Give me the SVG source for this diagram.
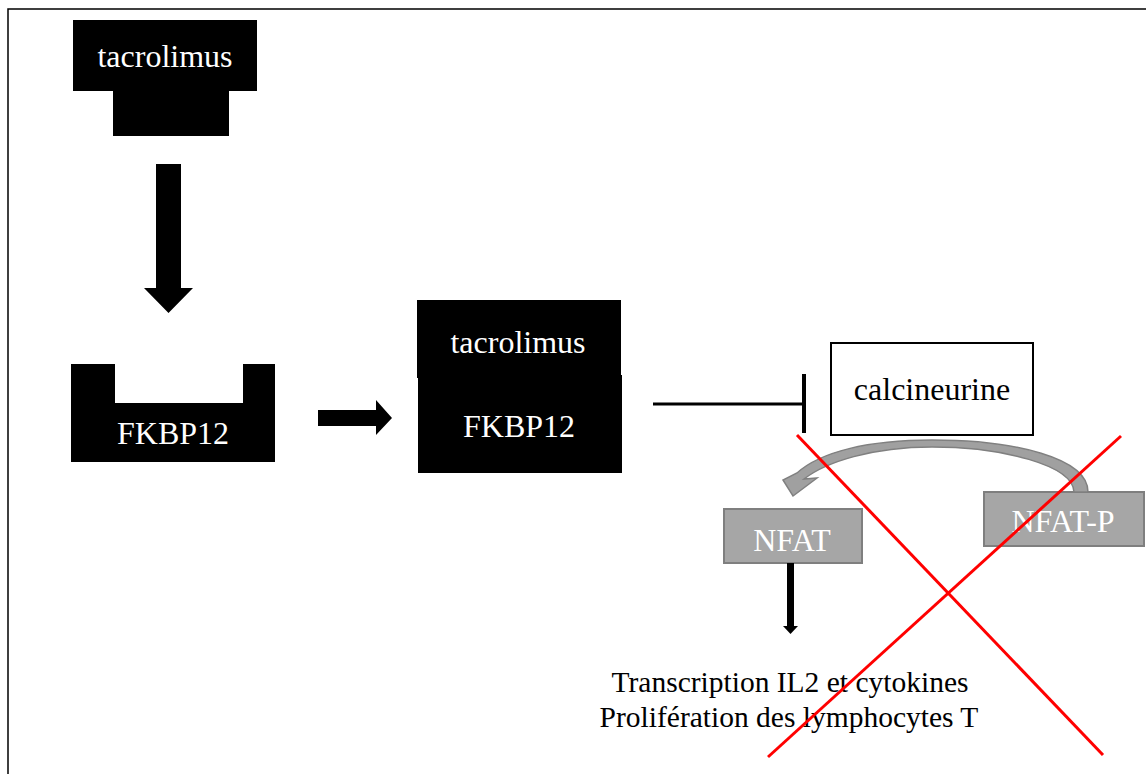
<svg xmlns="http://www.w3.org/2000/svg" width="1146" height="774" viewBox="0 0 1146 774">
<style>
.lbl{font-family:"Liberation Serif","Times New Roman",serif;font-size:32px;text-anchor:middle}
.w{fill:#ffffff}
.k{fill:#000000}
.blk{fill:#000000}
.gbox{fill:#a6a6a6;stroke:#7f7f7f;stroke-width:2}
.cross{stroke:#ff0000;stroke-width:3;fill:none}
.foot{font-family:"Liberation Serif","Times New Roman",serif;font-size:29.5px;text-anchor:middle;fill:#000}
</style>
<rect x="0" y="0" width="1146" height="774" fill="#ffffff"/>
<rect x="8" y="9" width="1150" height="780" fill="none" stroke="#000" stroke-width="1.5"/>

<g id="tacrolimus-free">
<polygon class="blk" points="73,20 257,20 257,91 229,91 229,136 113,136 113,91 73,91"/>
<text class="lbl w" x="165" y="67">tacrolimus</text>
</g>

<g id="fkbp12">
<polygon class="blk" points="71,364 115,364 115,403 243,403 243,364 275,364 275,462 71,462"/>
<text class="lbl w" x="173" y="444">FKBP12</text>
</g>

<g id="complex">
<rect class="blk" x="417" y="300" width="204" height="78"/>
<rect class="blk" x="418" y="375" width="204" height="98"/>
<text class="lbl w" x="518" y="353">tacrolimus</text>
<text class="lbl w" x="519" y="437">FKBP12</text>
</g>

<g id="calcineurine">
<rect x="831" y="343" width="202" height="92" fill="#fff" stroke="#000" stroke-width="2"/>
<text class="lbl k" x="932" y="400">calcineurine</text>
</g>

<g id="nfat">
<rect class="gbox" x="724" y="509" width="138" height="54"/>
<text class="lbl w" x="792" y="551">NFAT</text>
</g>

<g id="nfat-p">
<rect class="gbox" x="984" y="492" width="160" height="54"/>
<text class="lbl w" x="1063" y="532">NFAT-P</text>
</g>

<g id="outcome">
<text class="foot" x="790" y="692">Transcription IL2 et cytokines</text>
<text class="foot" x="789" y="727">Prolifération des lymphocytes T</text>
</g>

<g id="connectors">
<polygon class="blk" points="156,164 181,164 181,288 193,288 168.5,313 144,288 156,288"/>
<polygon class="blk" points="318,410 376,410 376,400 392,418 376,435 376,426 318,426"/>
<line x1="653" y1="404" x2="804" y2="404" stroke="#000" stroke-width="3"/>
<line x1="804" y1="374" x2="804" y2="433" stroke="#000" stroke-width="4"/>
<path d="M1088,492 C1088,458 1015,440 932,440 C868,440 820,452 797,473 L783,480 L793,496 L817,478 L804,479 C826,462 872,447 932,447 C1002,447 1073,465 1074,492 Z" fill="#a0a0a0" stroke="#808080" stroke-width="1.5" stroke-linejoin="miter"/>
<rect class="blk" x="787" y="563" width="7" height="64"/>
<polygon class="blk" points="783,626 798,626 790.5,634"/>
</g>

<g id="cross">
<line class="cross" x1="797" y1="435" x2="1103" y2="755"/>
<line class="cross" x1="1121" y1="436" x2="768" y2="757"/>
</g>
</svg>
